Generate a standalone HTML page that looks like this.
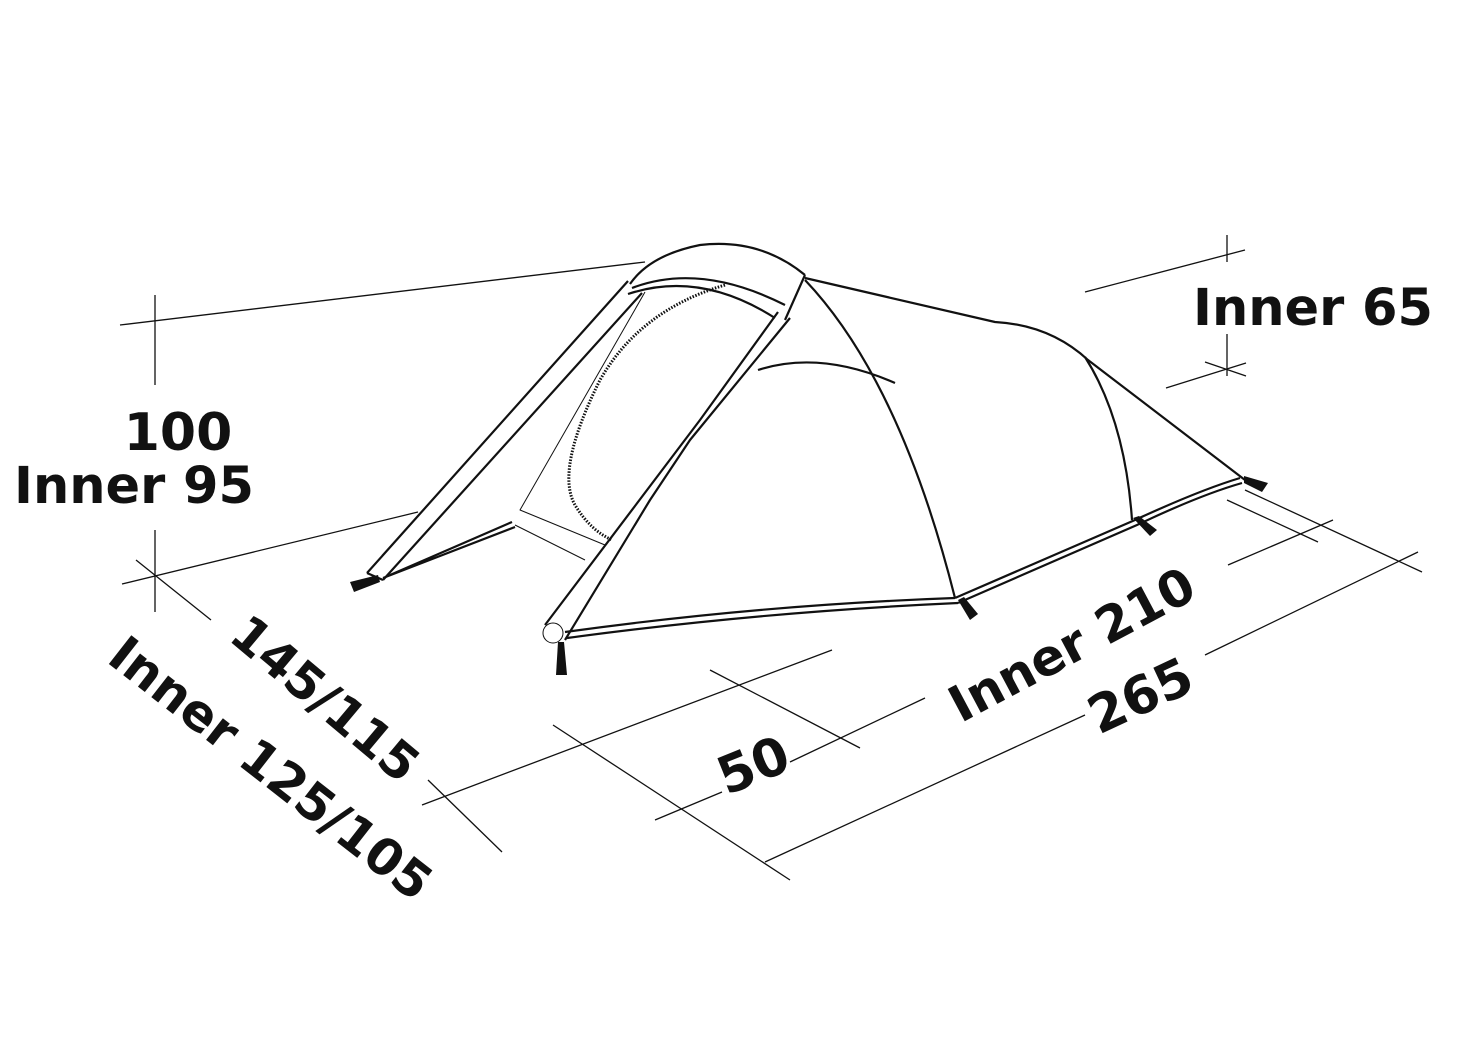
<!DOCTYPE html>
<html><head><style>
html,body{margin:0;padding:0;background:#fff;}
svg{display:block}
text{font-family:"DejaVu Sans","Liberation Sans",sans-serif;font-weight:bold;fill:#111;}
</style></head><body>
<svg width="1467" height="1039" viewBox="0 0 1467 1039" xmlns="http://www.w3.org/2000/svg">
<g stroke="#111" stroke-width="1.3" fill="none">
<line x1="120" y1="325" x2="645" y2="262"/>
<line x1="155" y1="295" x2="155" y2="385"/>
<line x1="155" y1="530" x2="155" y2="612"/>
<line x1="122" y1="584" x2="418" y2="512"/>
<line x1="136" y1="560" x2="211" y2="620"/>
<line x1="422" y1="805" x2="832" y2="650"/>
<line x1="428" y1="780" x2="502" y2="852"/>
<line x1="710" y1="670" x2="860" y2="748"/>
<line x1="553" y1="725" x2="790" y2="880"/>
<line x1="655" y1="820" x2="722" y2="792"/>
<line x1="790" y1="762" x2="925" y2="698"/>
<line x1="765" y1="862" x2="1085" y2="715"/>
<line x1="1205" y1="655" x2="1418" y2="552"/>
<line x1="1245" y1="490" x2="1422" y2="572"/>
<line x1="1227" y1="500" x2="1318" y2="542"/>
<line x1="1228" y1="565" x2="1333" y2="520"/>
<line x1="1227" y1="235" x2="1227" y2="262"/>
<line x1="1227" y1="334" x2="1227" y2="376"/>
<line x1="1085" y1="292" x2="1245" y2="250"/>
<line x1="1166" y1="388" x2="1246" y2="363"/>
<line x1="1205" y1="362" x2="1246" y2="376"/>
</g>
<g stroke="#111" stroke-width="2.2" fill="none" stroke-linejoin="round">
<path d="M367 573 L628 281"/>
<path d="M383 580 L642 293"/>
<path d="M367 573 L383 580"/>
<path d="M383 578 L515 527 M390 575 L512 522"/>
<path d="M630 284 Q650 255 700 245 Q760 238 805 275"/>
<path d="M632 288 Q700 262 785 305"/>
<path d="M628 294 Q700 270 775 318"/>
<path d="M805 275 L785 320"/>
<path d="M545 625 L700 420 L778 312"/>
<path d="M565 640 L650 500 Q670 470 690 440 L790 318"/>
<path d="M805 278 L995 322 Q1050 325 1088 360 L1245 480"/>
<path d="M805 280 Q900 380 955 598"/>
<path d="M1085 357 Q1125 420 1132 520"/>
<path d="M758 370 Q820 350 895 383"/>
<path d="M565 632 Q760 605 955 598 M567 638 Q760 612 958 603"/>
<path d="M955 598 L1135 520 Q1200 490 1240 478 M958 603 L1137 525 Q1200 495 1242 483"/>
<path d="M645 292 L520 510 L605 545 M515 525 L585 560" stroke-width="1"/>
<path d="M725 285 Q640 310 600 380 Q555 470 575 505 Q590 530 612 540" stroke-width="3" stroke-dasharray="1.5 1.5"/>
<circle cx="553" cy="633" r="10" stroke-width="1"/>
</g>
<g fill="#111">
<polygon points="350,582 378,575 380,582 354,592"/>
<polygon points="558,642 564,642 567,675 556,675"/>
<polygon points="958,600 964,597 978,614 970,620"/>
<polygon points="1133,518 1139,516 1157,530 1150,536"/>
<polygon points="1244,476 1268,483 1262,492 1244,483"/>
</g>
<text x="178" y="450" font-size="52" text-anchor="middle">100</text>
<text x="134" y="503" font-size="51" text-anchor="middle">Inner 95</text>
<text x="1313" y="325" font-size="51" text-anchor="middle">Inner 65</text>
<text transform="translate(314,712) rotate(40)" font-size="50" text-anchor="middle">145/115</text>
<text transform="translate(260,782) rotate(38)" font-size="50" text-anchor="middle">Inner 125/105</text>
<text transform="translate(760,782) rotate(-22)" font-size="52" text-anchor="middle">50</text>
<text transform="translate(1080,660) rotate(-28)" font-size="50" text-anchor="middle">Inner 210</text>
<text transform="translate(1148,712) rotate(-25)" font-size="52" text-anchor="middle">265</text>
</svg>
</body></html>
